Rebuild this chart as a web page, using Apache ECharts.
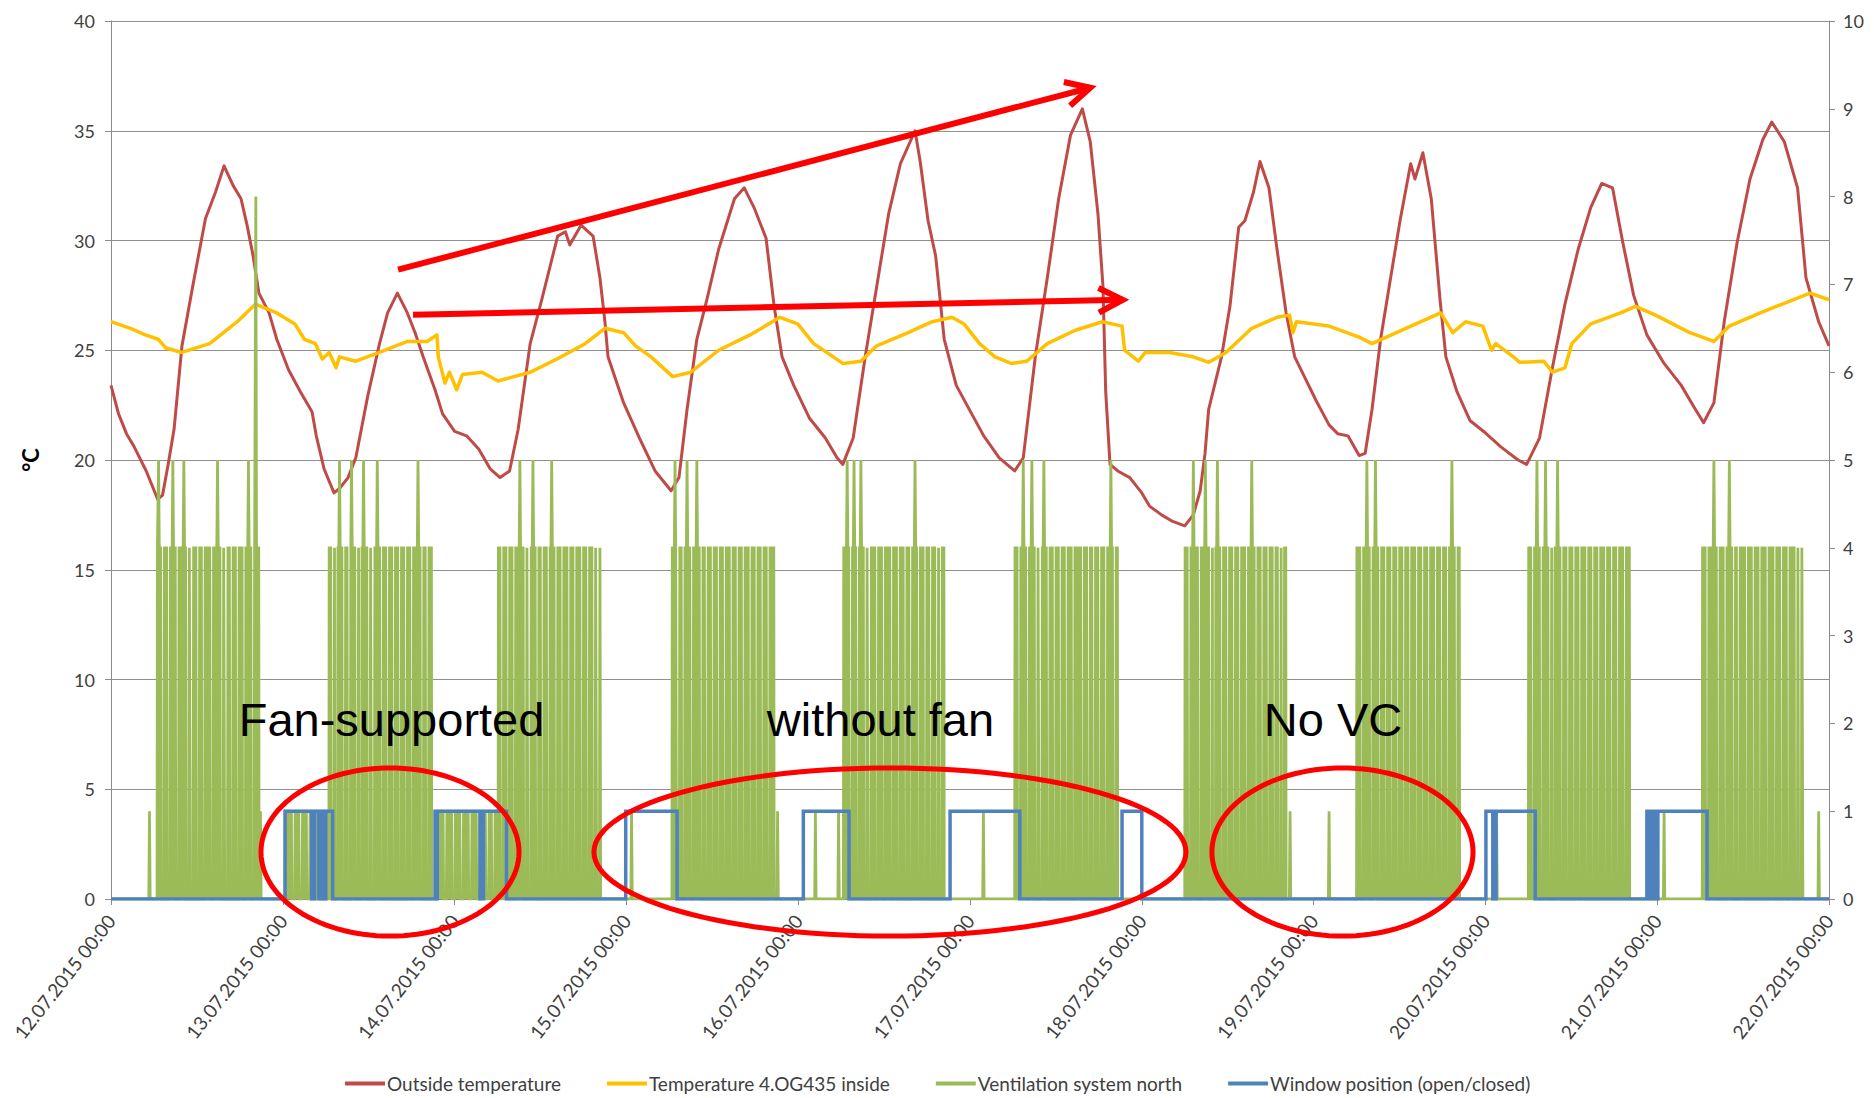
<!DOCTYPE html>
<html>
<head>
<meta charset="utf-8">
<title>Outside / inside temperature, ventilation and window position 12.07.-22.07.2015</title>
<script src="https://cdn.jsdelivr.net/npm/echarts@6.0.0/dist/echarts.min.js"></script>
<style>
html, body { margin: 0; padding: 0; background: #ffffff; }
#chart { width: 1874px; height: 1098px; }
</style>
</head>
<body>
<div id="chart"></div>
<script>
// x values are days after 12.07.2015 00:00
var dayLabels = ['12.07.2015 00:00', '13.07.2015 00:00', '14.07.2015 00:00', '15.07.2015 00:00', '16.07.2015 00:00',
  '17.07.2015 00:00', '18.07.2015 00:00', '19.07.2015 00:00', '20.07.2015 00:00', '21.07.2015 00:00', '22.07.2015 00:00'];

var outsideTemp = [
  [0.0, 23.4], [0.044, 22.1], [0.09, 21.2], [0.135, 20.6], [0.205, 19.5], [0.272, 18.2], [0.30, 18.4], [0.335, 19.9],
  [0.367, 21.4], [0.413, 25.2], [0.48, 28.1], [0.55, 31.0], [0.608, 32.2], [0.658, 33.4], [0.711, 32.5], [0.757, 31.9],
  [0.792, 30.7], [0.827, 29.3], [0.861, 27.6], [0.92, 26.7], [0.965, 25.5], [1.034, 24.1], [1.103, 23.1], [1.17, 22.2],
  [1.195, 21.1], [1.24, 19.6], [1.298, 18.5], [1.33, 18.7], [1.38, 19.2], [1.425, 20.1], [1.494, 22.9], [1.563, 25.3],
  [1.61, 26.7], [1.667, 27.6], [1.725, 26.7], [1.77, 25.8], [1.817, 24.7], [1.886, 23.2], [1.93, 22.1], [2.0, 21.3],
  [2.07, 21.1], [2.14, 20.5], [2.207, 19.6], [2.265, 19.2], [2.32, 19.5], [2.37, 21.4], [2.44, 25.3], [2.507, 27.3],
  [2.6, 30.2], [2.645, 30.4], [2.67, 29.8], [2.736, 30.7], [2.806, 30.2], [2.846, 28.3], [2.875, 26.3], [2.893, 24.7],
  [2.984, 22.6], [3.076, 21.0], [3.167, 19.5], [3.26, 18.6], [3.306, 19.2], [3.353, 22.3], [3.41, 25.5], [3.468, 27.3],
  [3.537, 29.6], [3.629, 31.9], [3.686, 32.4], [3.743, 31.5], [3.813, 30.1], [3.86, 27.0], [3.906, 24.7], [3.974, 23.4],
  [4.066, 21.9], [4.158, 21.0], [4.226, 20.1], [4.26, 19.8], [4.32, 21.0], [4.39, 24.7], [4.457, 27.9], [4.526, 31.2],
  [4.595, 33.5], [4.68, 35.0], [4.71, 33.6], [4.756, 30.9], [4.80, 29.3], [4.85, 25.5], [4.92, 23.4], [5.01, 22.1],
  [5.08, 21.1], [5.17, 20.1], [5.26, 19.5], [5.31, 20.1], [5.38, 24.7], [5.45, 28.3], [5.516, 31.9], [5.585, 34.8],
  [5.654, 36.0], [5.70, 34.5], [5.745, 31.2], [5.774, 27.9], [5.79, 23.1], [5.815, 19.8], [5.86, 19.5], [5.93, 19.2],
  [6.0, 18.5], [6.045, 17.9], [6.115, 17.5], [6.18, 17.2], [6.25, 17.0], [6.30, 17.5], [6.34, 18.6], [6.368, 20.3],
  [6.389, 22.3], [6.464, 24.7], [6.513, 27.0], [6.564, 30.6], [6.6, 30.9], [6.65, 32.2], [6.688, 33.6], [6.74, 32.4],
  [6.787, 29.6], [6.84, 26.7], [6.89, 24.7], [6.94, 23.9], [7.015, 22.7], [7.09, 21.6], [7.14, 21.2], [7.2, 21.1],
  [7.265, 20.2], [7.30, 20.3], [7.34, 22.3], [7.39, 25.5], [7.44, 27.9], [7.503, 30.9], [7.565, 33.5], [7.59, 32.8],
  [7.636, 34.0], [7.685, 31.9], [7.736, 27.3], [7.77, 24.7], [7.835, 23.1], [7.91, 21.8], [7.99, 21.3], [8.09, 20.6],
  [8.19, 20.0], [8.24, 19.8], [8.315, 21.0], [8.39, 24.2], [8.463, 27.1], [8.54, 29.6], [8.613, 31.5], [8.677, 32.6],
  [8.74, 32.4], [8.80, 29.9], [8.863, 27.5], [8.94, 25.7], [9.04, 24.4], [9.14, 23.4], [9.215, 22.4], [9.27, 21.7],
  [9.33, 22.6], [9.39, 26.3], [9.465, 29.9], [9.54, 32.8], [9.615, 34.6], [9.667, 35.4], [9.74, 34.5], [9.817, 32.4],
  [9.866, 28.3], [9.94, 26.3], [10.0, 25.2]
];

var insideTemp = [
  [0.0, 26.3], [0.113, 26.0], [0.2, 25.7], [0.275, 25.5], [0.32, 25.1], [0.413, 24.9], [0.574, 25.3], [0.735, 26.3],
  [0.84, 27.1], [0.965, 26.7], [1.07, 26.2], [1.126, 25.5], [1.19, 25.3], [1.23, 24.6], [1.27, 24.9], [1.31, 24.2],
  [1.33, 24.7], [1.425, 24.5], [1.563, 24.9], [1.725, 25.4], [1.84, 25.4], [1.897, 25.7], [1.905, 24.7], [1.944, 23.5],
  [1.97, 24.0], [2.012, 23.2], [2.046, 23.9], [2.16, 24.0], [2.253, 23.6], [2.44, 24.0], [2.62, 24.7], [2.76, 25.3],
  [2.875, 26.0], [2.984, 25.8], [3.053, 25.2], [3.143, 24.7], [3.27, 23.8], [3.375, 24.0], [3.537, 25.0], [3.72, 25.7],
  [3.894, 26.5], [3.997, 26.2], [4.09, 25.3], [4.26, 24.4], [4.365, 24.5], [4.457, 25.2], [4.64, 25.8], [4.78, 26.3],
  [4.895, 26.5], [4.965, 26.2], [5.056, 25.3], [5.145, 24.7], [5.24, 24.4], [5.33, 24.5], [5.45, 25.3], [5.61, 25.9],
  [5.77, 26.3], [5.885, 26.1], [5.90, 25.0], [5.98, 24.5], [6.02, 24.9], [6.16, 24.9], [6.30, 24.7], [6.39, 24.45],
  [6.49, 24.9], [6.64, 26.0], [6.787, 26.5], [6.86, 26.6], [6.88, 25.8], [6.90, 26.3], [7.09, 26.1], [7.265, 25.6],
  [7.34, 25.3], [7.537, 26.0], [7.74, 26.7], [7.81, 25.8], [7.885, 26.3], [7.985, 26.1], [8.036, 25.0], [8.06, 25.3],
  [8.163, 24.7], [8.2, 24.45], [8.34, 24.5], [8.39, 24.0], [8.463, 24.2], [8.503, 25.3], [8.613, 26.2], [8.787, 26.7],
  [8.874, 27.0], [8.99, 26.6], [9.09, 26.2], [9.19, 25.8], [9.33, 25.4], [9.42, 26.1], [9.6, 26.7], [9.79, 27.3],
  [9.89, 27.6], [10.0, 27.3]
];

// ventilation: running blocks at level 4 with short drops to 0
var ventBlocks = [[0.268, 0.862], [1.268, 1.867], [2.253, 2.85], [3.265, 3.86], [4.263, 4.85],
  [5.26, 5.86], [6.25, 6.84], [7.25, 7.85], [8.25, 8.84], [9.262, 9.848]];
var ventGaps = [
  [0.30, 0.335, 0.385, 0.445, 0.47, 0.505, 0.537, 0.586, 0.645, 0.67, 0.70, 0.735, 0.774, 0.825],
  [1.29, 1.31, 1.355, 1.385, 1.43, 1.45, 1.50, 1.525, 1.575, 1.61, 1.645, 1.68, 1.715, 1.75, 1.81, 1.84],
  [2.275, 2.31, 2.345, 2.41, 2.435, 2.48, 2.51, 2.545, 2.59, 2.625, 2.665, 2.70, 2.74, 2.775, 2.81, 2.835],
  [3.30, 3.33, 3.38, 3.435, 3.465, 3.50, 3.535, 3.57, 3.61, 3.645, 3.68, 3.72, 3.755, 3.79, 3.825],
  [4.305, 4.345, 4.39, 4.415, 4.457, 4.496, 4.544, 4.583, 4.622, 4.655, 4.70, 4.738, 4.771, 4.806, 4.828],
  [5.285, 5.335, 5.385, 5.41, 5.455, 5.49, 5.525, 5.56, 5.60, 5.655, 5.69, 5.72, 5.755, 5.79, 5.84],
  [6.275, 6.335, 6.40, 6.42, 6.465, 6.50, 6.535, 6.57, 6.61, 6.665, 6.70, 6.735, 6.77, 6.80, 6.82],
  [7.28, 7.335, 7.385, 7.42, 7.455, 7.49, 7.525, 7.56, 7.60, 7.635, 7.67, 7.71, 7.745, 7.78, 7.83],
  [8.275, 8.325, 8.375, 8.395, 8.445, 8.48, 8.515, 8.55, 8.59, 8.625, 8.66, 8.70, 8.735, 8.77, 8.81],
  [9.29, 9.355, 9.395, 9.445, 9.472, 9.52, 9.559, 9.598, 9.64, 9.685, 9.724, 9.762, 9.808, 9.831]
];
var ventPeaks = [[0.277, 5], [0.36, 5], [0.424, 5], [0.62, 5], [0.80, 5], [0.843, 8],
  [1.33, 5], [1.40, 5], [1.47, 5], [1.55, 5], [1.787, 5],
  [2.38, 5], [2.456, 5], [2.565, 5],
  [3.283, 5], [3.353, 5], [3.41, 5],
  [4.285, 5], [4.325, 5], [4.365, 5], [4.68, 5],
  [5.31, 5], [5.36, 5], [5.43, 5], [5.82, 5],
  [6.30, 5], [6.37, 5], [6.44, 5], [6.64, 5],
  [7.31, 5], [7.36, 5], [7.805, 5],
  [8.30, 5], [8.35, 5], [8.42, 5],
  [9.33, 5], [9.42, 5]];
// level 1 while windows were open (fan-supported days)
var ventLowBlocks = [[1.013, 1.258], [1.896, 2.248]];
var ventLowGaps = [[1.061, 1.104, 1.148, 1.19, 1.23], [1.944, 1.993, 2.041, 2.09, 2.137, 2.19, 2.225]];
var ventPulses = [0.224, 0.87, 3.03, 3.88, 4.10, 4.235, 5.078, 6.863, 7.09, 8.065, 9.04, 9.94];

// window open (1) intervals
var windowOpen = [[1.013, 1.168], [1.185, 1.21], [1.222, 1.24], [1.25, 1.29], [1.886, 1.892], [1.899, 2.148],
  [2.168, 2.302], [2.996, 3.295], [4.03, 4.296], [4.884, 5.29], [5.885, 6.0], [8.003, 8.043], [8.062, 8.29],
  [8.94, 8.948], [8.957, 8.965], [8.975, 8.985], [9.004, 9.29]];

// annotations, in axis units (days, °C)
var arrows = [[[1.671, 28.67], [5.70, 36.96]], [[1.758, 26.62], [5.889, 27.30]]];
var ellipses = [[1.624, 2.14, 0.751, 3.83], [4.534, 2.14, 1.723, 3.83], [7.168, 2.14, 0.76, 3.83]];
var notes = [['Fan-supported', 1.633, 8.2], ['without fan', 4.479, 8.2], ['No VC', 7.113, 8.2]];

function addBlock(feats, s, e, level, gaps) {
  feats.push({ t: s, pts: [[s, 0], [s + 0.002, level]] });
  gaps.forEach(function (g) {
    feats.push({ t: g, pts: [[g - 0.011, level], [g - 0.008, 0], [g + 0.008, 0], [g + 0.011, level]] });
  });
  feats.push({ t: e, pts: [[e - 0.002, level], [e, 0]] });
}

function buildVentilation() {
  var feats = [];
  ventBlocks.forEach(function (b, i) { addBlock(feats, b[0], b[1], 4, ventGaps[i]); });
  ventLowBlocks.forEach(function (b, i) { addBlock(feats, b[0], b[1], 1, ventLowGaps[i]); });
  ventPeaks.forEach(function (p) {
    feats.push({ t: p[0], pts: [[p[0] - 0.004, 4], [p[0], p[1]], [p[0] + 0.004, 4]] });
  });
  ventPulses.forEach(function (t) {
    feats.push({ t: t, pts: [[t - 0.004, 0], [t, 1], [t + 0.004, 0]] });
  });
  feats.sort(function (a, b) { return a.t - b.t; });
  var data = [[0, 0]];
  feats.forEach(function (f) { data = data.concat(f.pts); });
  data.push([10, 0]);
  return data;
}

function buildWindow() {
  var data = [[0, 0]];
  windowOpen.forEach(function (w) {
    data.push([w[0], 0], [w[0], 1], [w[1], 1], [w[1], 0]);
  });
  data.push([10, 0]);
  return data;
}

var chart = echarts.init(document.getElementById('chart'), null, { renderer: 'svg' });
var axisGray = '#8a8a8a';
var labelFont = 'Lato, "Open Sans", sans-serif';

var option = {
  animation: false,
  backgroundColor: '#ffffff',
  grid: { left: 111, right: 45, top: 21, bottom: 199, containLabel: false, outerBoundsMode: 'none' },
  legend: {
    left: 340, top: 1069,
    icon: 'rect', itemWidth: 40, itemHeight: 4, itemGap: 46,
    textStyle: { fontFamily: labelFont, fontSize: 19, color: '#404040', padding: [0, 0, 0, -3] },
    data: ['Outside temperature', 'Temperature 4.OG435 inside', 'Ventilation system north', 'Window position (open/closed)']
  },
  xAxis: {
    type: 'value', min: 0, max: 10, interval: 1,
    axisLine: { show: true, onZero: false, lineStyle: { color: axisGray, width: 1 } },
    axisTick: { show: true, inside: false, length: 6, lineStyle: { color: axisGray } },
    splitLine: { show: false },
    axisLabel: {
      rotate: 52, margin: 18, fontFamily: labelFont, fontSize: 19, color: '#404040',
      showMinLabel: true, showMaxLabel: true, hideOverlap: false,
      formatter: function (v) { return dayLabels[Math.round(v)]; }
    }
  },
  yAxis: [
    {
      type: 'value', min: 0, max: 40, interval: 5, position: 'left',
      name: '°C', nameLocation: 'middle', nameGap: 70, nameRotate: 90,
      nameTextStyle: { fontFamily: labelFont, fontSize: 22, fontWeight: 'bold', color: '#000000' },
      axisLine: { show: true, lineStyle: { color: axisGray, width: 1 } },
      axisTick: { show: true, inside: false, length: 6, lineStyle: { color: axisGray } },
      splitLine: { show: true, lineStyle: { color: '#909090', width: 1 } },
      axisLabel: { margin: 16, fontFamily: labelFont, fontSize: 18, color: '#404040' }
    },
    {
      type: 'value', min: 0, max: 10, interval: 1, position: 'right',
      axisLine: { show: true, lineStyle: { color: axisGray, width: 1 } },
      axisTick: { show: true, inside: false, length: 6, lineStyle: { color: axisGray } },
      splitLine: { show: false },
      axisLabel: { margin: 14, fontFamily: labelFont, fontSize: 18, color: '#404040' }
    }
  ],
  series: [
    {
      name: 'Outside temperature', type: 'line', yAxisIndex: 0, data: outsideTemp,
      showSymbol: false, symbol: 'none', smooth: false, z: 2,
      itemStyle: { color: '#BE4B48' }, lineStyle: { color: '#BE4B48', width: 3, join: 'round' }
    },
    {
      name: 'Temperature 4.OG435 inside', type: 'line', yAxisIndex: 0, data: insideTemp,
      showSymbol: false, symbol: 'none', z: 3,
      itemStyle: { color: '#FFC000' }, lineStyle: { color: '#FFC000', width: 3.5, join: 'round' }
    },
    {
      // the dense on/off switching reads as a filled band
      name: 'Ventilation system north', type: 'line', yAxisIndex: 1, data: buildVentilation(),
      showSymbol: false, symbol: 'none', sampling: null, z: 4,
      itemStyle: { color: '#9BBB59' }, lineStyle: { color: '#9BBB59', width: 2.8, join: 'miter' },
      areaStyle: { color: '#9BBB59', opacity: 1, origin: 'start' }
    },
    {
      name: 'Window position (open/closed)', type: 'line', yAxisIndex: 1, data: buildWindow(),
      showSymbol: false, symbol: 'none', z: 5,
      itemStyle: { color: '#4F81BD' }, lineStyle: { color: '#4F81BD', width: 3.5, join: 'miter' }
    }
  ]
};
chart.setOption(option);

// annotation layer placed through the axes
function toPx(p) {
  return chart.convertToPixel({ xAxisIndex: 0, yAxisIndex: 0 }, p);
}
var red = '#FF0000';
var shapes = [];
arrows.forEach(function (a) {
  var p0 = toPx(a[0]);
  var p1 = toPx(a[1]);
  var ang = Math.atan2(p1[1] - p0[1], p1[0] - p0[0]);
  var len = 27, spread = 27 * Math.PI / 180;
  var h1 = [p1[0] - len * Math.cos(ang - spread), p1[1] - len * Math.sin(ang - spread)];
  var h2 = [p1[0] - len * Math.cos(ang + spread), p1[1] - len * Math.sin(ang + spread)];
  shapes.push({ type: 'line', z: 100, shape: { x1: p0[0], y1: p0[1], x2: p1[0], y2: p1[1] },
    style: { stroke: red, lineWidth: 6 } });
  shapes.push({ type: 'polyline', z: 100, shape: { points: [h1, p1, h2] },
    style: { stroke: red, lineWidth: 6, fill: null, lineJoin: 'miter' } });
});
ellipses.forEach(function (e) {
  var c = toPx([e[0], e[1]]);
  var edge = toPx([e[0] + e[2], e[1] + e[3]]);
  var rx = edge[0] - c[0], ry = c[1] - edge[1];
  var pts = [];
  for (var i = 0; i < 120; i++) {
    var a = i / 120 * Math.PI * 2;
    pts.push([c[0] + rx * Math.cos(a), c[1] + ry * Math.sin(a)]);
  }
  shapes.push({ type: 'polygon', z: 100, shape: { points: pts },
    style: { stroke: red, lineWidth: 5, fill: null } });
});
notes.forEach(function (n) {
  var p = toPx([n[1], n[2]]);
  shapes.push({ type: 'text', z: 101, x: p[0], y: p[1],
    style: { text: n[0], fontFamily: '"Liberation Sans", Arial, sans-serif', fontSize: 47,
      fill: '#000000', align: 'center', verticalAlign: 'middle' } });
});
chart.setOption({ graphic: { elements: shapes } });
</script>
</body>
</html>
